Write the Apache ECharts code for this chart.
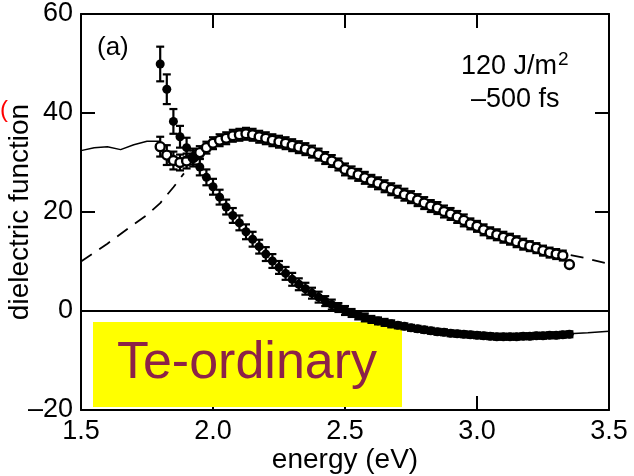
<!DOCTYPE html>
<html lang="en">
<head>
    <meta charset="UTF-8">
    <title>dielectric function</title>
    <style>
        html, body { margin: 0; padding: 0; background: #fff; }
        #main { width: 634px; height: 476px; }
    </style>
    <script src="https://cdn.jsdelivr.net/npm/echarts@6/dist/echarts.min.js"></script>
</head>
<body>
<div id="main"></div>
<script type="text/javascript">
    // photon energy of the measured points (eV)
    var energy = [1.800,1.825,1.850,1.875,1.900,1.925,1.950,1.975,2.000,2.025,2.050,2.075,2.100,2.125,2.150,2.175,
        2.200,2.225,2.250,2.275,2.300,2.325,2.350,2.375,2.400,2.425,2.450,2.475,2.500,2.525,2.550,2.575,
        2.600,2.625,2.650,2.675,2.700,2.725,2.750,2.775,2.800,2.825,2.850,2.875,2.900,2.925,2.950,2.975,
        3.000,3.025,3.050,3.075,3.100,3.125,3.150,3.175,3.200,3.225,3.250,3.275,3.300,3.325,3.350];

    // filled circles
    var eps1 = [49.9,44.8,38.3,35.2,33.0,31.0,29.1,27.0,25.1,23.0,21.0,19.3,17.8,16.0,14.5,13.0,
        11.5,10.1,8.8,7.6,6.4,5.4,4.5,3.6,2.8,2.0,1.3,0.7,0.1,-0.4,-0.9,-1.3,
        -1.7,-2.0,-2.3,-2.6,-2.9,-3.1,-3.4,-3.6,-3.8,-4.0,-4.2,-4.3,-4.5,-4.6,-4.7,-4.8,
        -4.9,-5.0,-5.1,-5.2,-5.2,-5.2,-5.2,-5.1,-5.1,-5.0,-5.0,-4.9,-4.9,-4.8,-4.7];
    var err1 = [3.5,3.0,2.5,2.2,2.0,1.8,1.7,1.6,1.6,1.5,1.5,1.5,1.5,1.5,1.5,1.4,
        1.4,1.4,1.3,1.3,1.3,1.2,1.2,1.1,1.1,1.0,1.0,0.9,0.9,0.8,0.8,0.8,
        0.7,0.7,0.7,0.7,0.6,0.6,0.6,0.6,0.6,0.6,0.6,0.6,0.6,0.6,0.6,0.6,
        0.6,0.6,0.6,0.6,0.6,0.6,0.6,0.6,0.6,0.6,0.6,0.6,0.6,0.6,0.6];

    // open circles
    var eps2 = [33.2,31.5,30.4,30.0,30.3,31.0,32.0,33.0,33.9,34.5,34.9,35.4,35.6,35.8,35.6,35.2,
        34.9,34.5,34.2,33.9,33.5,33.1,32.7,32.2,31.6,30.9,30.3,29.6,28.6,28.0,27.5,26.9,
        26.3,25.8,25.2,24.6,24.1,23.5,23.0,22.4,21.8,21.2,20.8,20.1,19.6,19.0,18.3,17.6,
        17.1,16.4,15.8,15.4,14.9,14.5,14.0,13.5,13.1,12.7,12.2,11.8,11.5,11.2,9.4];
    var err2 = [2.0,2.0,1.8,1.6,1.5,1.4,1.3,1.2,1.2,1.2,1.2,1.2,1.2,1.2,1.2,1.2,
        1.2,1.2,1.2,1.2,1.2,1.2,1.2,1.2,1.2,1.2,1.2,1.2,1.2,1.2,1.2,1.2,
        1.2,1.2,1.2,1.2,1.2,1.2,1.2,1.2,1.2,1.2,1.2,1.2,1.2,1.2,1.2,1.1,
        1.1,1.1,1.1,1.1,1.1,1.1,1.1,1.1,1.0,1.0,1.0,1.0,1.0,1.0,0.0];

    // reference curves (only the parts not hidden by the data)
    var solidLeftE = [1.50,1.55,1.60,1.65,1.70,1.75,1.80];
    var solidLeftV = [32.4,33.0,33.2,32.6,33.6,34.3,34.3];
    var solidRightE = [3.35,3.42,3.50];
    var solidRightV = [-4.6,-4.4,-4.1];
    var dashLeftE = [1.50,1.60,1.70,1.75,1.80,1.85,1.89];
    var dashLeftV = [10.0,13.6,17.5,19.4,21.8,25.0,27.8];
    var dashRightE = [3.355,3.41,3.50];
    var dashRightV = [11.3,10.7,9.5];

    var xTicks = [1.5, 2.0, 2.5, 3.0, 3.5];
    var yTicks = [-20, 0, 20, 40, 60];

    function pairs(xs, ys){
        var out = [];
        for (var i = 0; i < xs.length; i++) out.push([xs[i], ys[i]]);
        return out;
    }
    function triples(xs, ys, es){
        var out = [];
        for (var i = 0; i < xs.length; i++) out.push([xs[i], ys[i], es[i]]);
        return out;
    }

    function errorBars(params, api){
        var x = api.value(0), y = api.value(1), e = api.value(2);
        if (!e) return null;
        var top = api.coord([x, y + e]);
        var bot = api.coord([x, y - e]);
        var w = 4;
        var st = {stroke: '#000', lineWidth: 2.2};
        return {
            type: 'group',
            children: [
                {type: 'line', shape: {x1: top[0], y1: top[1], x2: bot[0], y2: bot[1]}, style: st},
                {type: 'line', shape: {x1: top[0] - w, y1: top[1], x2: top[0] + w, y2: top[1]}, style: st},
                {type: 'line', shape: {x1: bot[0] - w, y1: bot[1], x2: bot[0] + w, y2: bot[1]}, style: st}
            ]
        };
    }

    var font = 'Liberation Sans, Arial, sans-serif';
    var myChart = echarts.init(document.getElementById('main'));

    var axisCommon = {
        type: 'value',
        axisLine: {show: true, onZero: false, lineStyle: {color: '#000', width: 2}},
        axisTick: {show: true, inside: true, length: 14, lineStyle: {color: '#000', width: 2}},
        splitLine: {show: false}
    };

    var option = {
        animation: false,
        backgroundColor: '#fff',
        grid: {left: 81, right: 25, top: 14, bottom: 66, containLabel: false, outerBoundsMode: 'none'},
        xAxis: [
            echarts.util.merge({
                min: xTicks[0], max: xTicks[xTicks.length - 1], interval: 0.5,
                position: 'bottom',
                axisLabel: {color: '#000', fontSize: 27, fontFamily: font, margin: 8,
                    formatter: function(v){ return v.toFixed(1); }},
                name: 'energy (eV)', nameLocation: 'middle', nameGap: 36, nameMoveOverlap: false,
                nameTextStyle: {color: '#000', fontSize: 28, fontFamily: font}
            }, axisCommon),
            echarts.util.merge({
                min: xTicks[0], max: xTicks[xTicks.length - 1], interval: 0.5,
                position: 'top', axisLabel: {show: false}
            }, axisCommon)
        ],
        yAxis: [
            echarts.util.merge({
                min: yTicks[0], max: yTicks[yTicks.length - 1], interval: 20,
                position: 'left',
                axisLabel: {color: '#000', fontSize: 27, fontFamily: font, margin: 8,
                    formatter: function(v){ return v < 0 ? '\u2013' + Math.abs(v) : '' + v; }},
                name: 'dielectric function', nameLocation: 'middle', nameRotate: 90, nameGap: 47,
                nameMoveOverlap: false,
                nameTextStyle: {color: '#000', fontSize: 28, fontFamily: font}
            }, axisCommon),
            echarts.util.merge({
                min: yTicks[0], max: yTicks[yTicks.length - 1], interval: 20,
                position: 'right', axisLabel: {show: false}
            }, axisCommon)
        ],
        graphic: [
            {type: 'rect', left: 93, top: 322, shape: {width: 309, height: 85},
                style: {fill: '#ffff00'}, z: 1},
            {type: 'text', x: 247, y: 364, z: 2,
                style: {text: 'Te-ordinary', fill: '#8c2248', font: '52px ' + font,
                    textAlign: 'center', textVerticalAlign: 'middle'}},
            {type: 'text', x: 97, y: 48, z: 5,
                style: {text: '(a)', fill: '#000', font: '26px ' + font, textVerticalAlign: 'middle'}},
            {type: 'text', x: 461, y: 67, z: 5,
                style: {text: '120 J/m', fill: '#000', font: '27px ' + font, textVerticalAlign: 'middle'}},
            {type: 'text', x: 558, y: 60, z: 5,
                style: {text: '2', fill: '#000', font: '19px ' + font, textVerticalAlign: 'middle'}},
            {type: 'text', x: 471, y: 100, z: 5,
                style: {text: '\u2013500 fs', fill: '#000', font: '27px ' + font, textVerticalAlign: 'middle'}},
            {type: 'text', x: 0, y: 110, z: 5,
                style: {text: '(', fill: '#ff0000', font: '24px ' + font, textVerticalAlign: 'middle'}}
        ],
        series: [
            {
                name: 'zero', type: 'line', data: [], z: 3,
                markLine: {
                    silent: true, symbol: ['none', 'none'], label: {show: false},
                    lineStyle: {color: '#000', width: 2, type: 'solid'},
                    data: [{yAxis: 0}]
                }
            },
            {type: 'line', data: pairs(solidLeftE, solidLeftV), showSymbol: false, z: 3,
                lineStyle: {color: '#000', width: 1.5}},
            {type: 'line', data: pairs(solidRightE, solidRightV), showSymbol: false, z: 3,
                lineStyle: {color: '#000', width: 1.5}},
            {type: 'line', data: pairs(dashLeftE, dashLeftV), showSymbol: false, z: 3,
                lineStyle: {color: '#000', width: 1.8, type: [13, 9]}},
            {type: 'line', data: pairs(dashRightE, dashRightV), showSymbol: false, z: 3,
                lineStyle: {color: '#000', width: 1.8, type: [13, 9]}},
            {type: 'custom', renderItem: errorBars, data: triples(energy, eps2, err2),
                encode: {x: 0, y: 1}, z: 4},
            {type: 'scatter', data: pairs(energy, eps2), symbol: 'circle', symbolSize: 9, z: 5,
                itemStyle: {color: '#fff', borderColor: '#000', borderWidth: 2.4, opacity: 1}},
            {type: 'custom', renderItem: errorBars, data: triples(energy, eps1, err1),
                encode: {x: 0, y: 1}, z: 6},
            {type: 'scatter', data: pairs(energy, eps1), symbol: 'circle', symbolSize: 9, z: 7,
                itemStyle: {color: '#000', borderColor: '#000', borderWidth: 0, opacity: 1}}
        ]
    };

    myChart.setOption(option);
</script>
</body>
</html>
